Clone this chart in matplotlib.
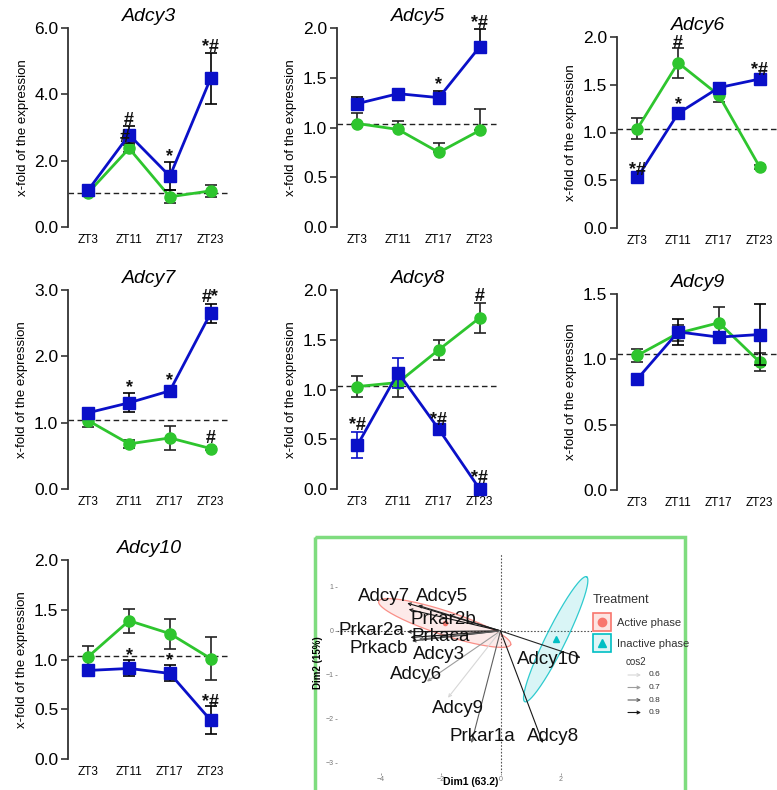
import numpy as np
import matplotlib
matplotlib.use("Agg")
import matplotlib.pyplot as plt
from matplotlib.patches import Rectangle, Polygon

plt.rcParams["font.family"] = ["Liberation Sans", "DejaVu Sans"]

W, H = 777, 790

# ---- line chart data (x-fold of expression) ----
zt = ["ZT3", "ZT11", "ZT17", "ZT23"]

adcy3_blue = [1.12, 2.78, 1.53, 4.48]
adcy3_blue_err = [0.05, 0.26, 0.42, 0.77]
adcy3_green = [1.04, 2.37, 0.91, 1.09]
adcy3_green_err = [0.04, 0.10, 0.20, 0.18]
adcy3_marks = [(1, 3.22, "#"), (0.88, 2.70, "#"), (2, 2.12, "*"), (3, 5.42, "*#")]

adcy5_blue = [1.24, 1.34, 1.30, 1.81]
adcy5_blue_err = [0.07, 0.02, 0.07, 0.18]
adcy5_green = [1.04, 0.98, 0.75, 0.97]
adcy5_green_err = [0.11, 0.09, 0.09, 0.22]
adcy5_marks = [(2, 1.43, "*"), (3, 2.05, "*#")]

adcy6_blue = [0.53, 1.20, 1.47, 1.56]
adcy6_blue_err = [0.02, 0.02, 0.05, 0.02]
adcy6_green = [1.04, 1.73, 1.39, 0.64]
adcy6_green_err = [0.11, 0.16, 0.07, 0.02]
adcy6_marks = [(0, 0.60, "*#"), (1, 1.93, "#"), (1, 1.29, "*"), (3, 1.65, "*#")]

adcy7_blue = [1.15, 1.30, 1.48, 2.65]
adcy7_blue_err = [0.03, 0.14, 0.03, 0.14]
adcy7_green = [1.03, 0.68, 0.77, 0.61]
adcy7_green_err = [0.10, 0.06, 0.18, 0.02]
adcy7_marks = [(1, 1.53, "*"), (2, 1.64, "*"), (3, 2.89, "#*"), (3, 0.76, "#")]

adcy8_blue = [0.44, 1.17, 0.60, 0.00]
adcy8_blue_err = [0.13, 0.15, 0.02, 0.00]
adcy8_green = [1.03, 1.07, 1.40, 1.72]
adcy8_green_err = [0.11, 0.15, 0.10, 0.15]
adcy8_marks = [(0, 0.64, "*#"), (2, 0.69, "*#"), (3, 0.11, "*#"), (3, 1.93, "#")]

adcy9_blue = [0.85, 1.21, 1.17, 1.19]
adcy9_blue_err = [0.01, 0.10, 0.04, 0.23]
adcy9_green = [1.03, 1.20, 1.28, 0.98]
adcy9_green_err = [0.05, 0.06, 0.12, 0.07]
adcy9_marks = []

adcy10_blue = [0.89, 0.91, 0.86, 0.39]
adcy10_blue_err = [0.01, 0.08, 0.08, 0.14]
adcy10_green = [1.03, 1.39, 1.26, 1.01]
adcy10_green_err = [0.11, 0.12, 0.15, 0.22]
adcy10_marks = [(1, 1.04, "*"), (2, 0.99, "*"), (3, 0.57, "*#")]

ref_level = 1.04

# ---- PCA biplot data ----
pca_vars = ["Adcy7", "Adcy5", "Prkar2b", "Prkar2a", "Prkaca", "Prkacb",
            "Adcy3", "Adcy6", "Adcy9", "Prkar1a", "Adcy8", "Adcy10"]
pca_dim1 = [-3.11, -2.75, -3.06, -3.11, -3.00, -2.95, -2.72, -2.45, -1.75, -0.97, 1.41, 2.67]
pca_dim2 = [0.63, 0.58, 0.49, -0.02, -0.15, -0.23, -0.19, -1.15, -1.52, -2.55, -2.55, -0.61]
pca_cos2 = [0.9, 0.88, 0.9, 0.88, 0.9, 0.85, 0.8, 0.7, 0.6, 0.8, 0.9, 0.88]
label_x = [-3.87, -1.94, -1.92, -4.29, -1.98, -4.06, -2.06, -2.83, -1.42, -0.61, 1.75, 1.58]
label_y = [0.78, 0.78, 0.27, 0.00, -0.12, -0.39, -0.54, -0.99, -1.77, -2.40, -2.40, -0.64]
group_names = ["Active phase", "Inactive phase"]
group_center_x = [-1.86, 1.84]
group_center_y = [0.18, -0.19]
# confidence ellipses: half major axis and half minor axis vectors (data units)
ell_major = [(2.20, -0.49), (1.03, 1.42)]
ell_minor = [(0.12, 0.26), (-0.30, 0.10)]
group_colors = ["#f8766d", "#00bfc4"]

BLUE = "#0a10c8"
GREEN = "#2ec52e"


def rect(left, top, right, bottom):
    return [left / W, 1 - bottom / H, (right - left) / W, (bottom - top) / H]


fig = plt.figure(figsize=(W / 100, H / 100), dpi=100)


def line_panel(pos, title, top, step, blue, blue_err, green, green_err, marks,
               upper_only=False, blue_err_color="black"):
    ax = fig.add_axes(rect(*pos))
    x = np.arange(4)
    if upper_only:
        gerr = [np.zeros(4), green_err]
        berr = [np.zeros(4), blue_err]
    else:
        gerr = green_err
        berr = blue_err
    ax.axhline(ref_level, color="#222222", ls=(0, (4, 2.5)), lw=1.0, zorder=1)
    ax.errorbar(x, green, yerr=gerr, fmt="none", ecolor="#222222", elinewidth=1.2,
                capsize=4, capthick=1.2, zorder=2, clip_on=False)
    ax.plot(x, green, color=GREEN, lw=2, marker="o", ms=8, zorder=3, clip_on=False)
    ax.errorbar(x, blue, yerr=berr, fmt="none", ecolor=blue_err_color, elinewidth=1.2,
                capsize=4, capthick=1.2, zorder=4, clip_on=False)
    ax.plot(x, blue, color=BLUE, lw=2, marker="s", ms=8, zorder=5, clip_on=False)
    for mx, my, mt in marks:
        ax.text(mx, my, mt, ha="center", va="center", fontsize=13, fontweight="bold",
                color="#111111", zorder=6)
    ax.set_xlim(-0.5, 3.5)
    ax.set_ylim(0, top)
    ticks = np.arange(0, top + step / 2, step)
    ax.set_yticks(ticks)
    ax.set_yticklabels(["%.1f" % t for t in ticks], fontsize=12.5)
    ax.set_xticks(x)
    ax.set_xticklabels(zt, fontsize=8.5)
    ax.tick_params(axis="x", length=0, pad=5)
    ax.tick_params(axis="y", length=5, width=1.2, color="#333333", pad=2)
    for s in ["top", "right", "bottom"]:
        ax.spines[s].set_visible(False)
    ax.spines["left"].set_linewidth(1.3)
    ax.spines["left"].set_color("#333333")
    ax.set_ylabel("x-fold of the expression", fontsize=9.5, labelpad=4)
    ax.set_title(title, fontsize=14, style="italic", pad=5)
    ax.patch.set_alpha(0)
    return ax


line_panel((68, 28, 231, 227), "Adcy3", 6.0, 2.0, adcy3_blue, adcy3_blue_err,
           adcy3_green, adcy3_green_err, adcy3_marks)
line_panel((337, 28, 500, 227), "Adcy5", 2.0, 0.5, adcy5_blue, adcy5_blue_err,
           adcy5_green, adcy5_green_err, adcy5_marks, upper_only=True)
line_panel((617, 37, 780, 228), "Adcy6", 2.0, 0.5, adcy6_blue, adcy6_blue_err,
           adcy6_green, adcy6_green_err, adcy6_marks)
line_panel((68, 290, 231, 489), "Adcy7", 3.0, 1.0, adcy7_blue, adcy7_blue_err,
           adcy7_green, adcy7_green_err, adcy7_marks)
line_panel((337, 290, 500, 489), "Adcy8", 2.0, 0.5, adcy8_blue, adcy8_blue_err,
           adcy8_green, adcy8_green_err, adcy8_marks, blue_err_color=BLUE)
line_panel((617, 294, 780, 490), "Adcy9", 1.5, 0.5, adcy9_blue, adcy9_blue_err,
           adcy9_green, adcy9_green_err, adcy9_marks)
line_panel((68, 560, 231, 759), "Adcy10", 2.0, 0.5, adcy10_blue, adcy10_blue_err,
           adcy10_green, adcy10_green_err, adcy10_marks)

# ---- PCA biplot ----
pax = fig.add_axes(rect(337, 553, 592, 773))
pax.set_xlim(-5.45, 3.05)
pax.set_ylim(-3.23, 1.77)
pax.axhline(0, color="#555555", ls=(0, (1.5, 1.5)), lw=0.8, zorder=1)
pax.axvline(0, color="#555555", ls=(0, (1.5, 1.5)), lw=0.8, zorder=1)

t = np.linspace(0, 2 * np.pi, 200)
for i in range(2):
    ex = group_center_x[i] + ell_major[i][0] * np.cos(t) + ell_minor[i][0] * np.sin(t)
    ey = group_center_y[i] + ell_major[i][1] * np.cos(t) + ell_minor[i][1] * np.sin(t)
    pax.add_patch(Polygon(np.column_stack([ex, ey]), closed=True,
                          facecolor=group_colors[i], alpha=0.15, edgecolor="none", zorder=2))
    pax.plot(ex, ey, color=group_colors[i], lw=0.9, alpha=0.8, zorder=2)
pax.plot(group_center_x[0], group_center_y[0], "o", color=group_colors[0], ms=3, zorder=3)
pax.plot(group_center_x[1], group_center_y[1], "^", color=group_colors[1], ms=4, zorder=3)

cos_cmap = plt.cm.Greys
for i, name in enumerate(pca_vars):
    c = cos_cmap(0.15 + (pca_cos2[i] - 0.55) * 2.2)
    pax.annotate("", xy=(pca_dim1[i], pca_dim2[i]), xytext=(0, 0),
                 arrowprops=dict(arrowstyle="->", color=c, lw=0.8, mutation_scale=5,
                                 shrinkA=0, shrinkB=0), zorder=4)
    pax.text(label_x[i], label_y[i], name, ha="center", va="center", fontsize=13.5,
             color="#111111", zorder=5)

pax.set_xticks([-4, -2, 0, 2])
pax.set_yticks([1, 0, -1, -2, -3])
pax.tick_params(labelsize=5, colors="#777777", length=1.5, width=0.5, pad=1)
for s in pax.spines.values():
    s.set_visible(False)
pax.patch.set_alpha(0)
fig.text(318 / W, 1 - 663 / H, "Dim2 (15%)", rotation=90, ha="center", va="center",
         fontsize=7, fontweight="bold")
fig.text(471 / W, 1 - 782 / H, "Dim1 (63.2)", ha="center", va="center",
         fontsize=7.5, fontweight="bold")

# ---- overlay: border and legend ----
ov = fig.add_axes([0, 0, 1, 1])
ov.set_xlim(0, W)
ov.set_ylim(H, 0)
ov.axis("off")
ov.add_patch(Rectangle((315, 537), 370, 258, fill=False, edgecolor="#7fdc7f", lw=2.5))
ov.text(593, 600, "Treatment", fontsize=9, color="#333333", va="center")
legend_markers = ["o", "^"]
legend_fills = ["#fde4e1", "#dff5f6"]
for i in range(2):
    y0 = 613 + i * 21
    ov.add_patch(Rectangle((593, y0), 18, 18, facecolor=legend_fills[i],
                           edgecolor=group_colors[i], lw=1.2))
    ov.plot(602, y0 + 9, legend_markers[i], color=group_colors[i], ms=6)
    ov.text(617, y0 + 10, group_names[i], fontsize=8, color="#333333", va="center")
ov.text(626, 662, "cos2", fontsize=7, color="#333333", va="center")
cos2_levels = [0.6, 0.7, 0.8, 0.9]
for i, lv in enumerate(cos2_levels):
    y = 675 + i * 12.5
    c = cos_cmap(0.15 + (lv - 0.55) * 2.2)
    ov.annotate("", xy=(641, y), xytext=(628, y),
                arrowprops=dict(arrowstyle="->", color=c, lw=0.8, mutation_scale=5,
                                shrinkA=0, shrinkB=0))
    ov.text(649, y, "%.1f" % lv, fontsize=6, color="#333333", va="center")

fig.savefig("out.png", dpi=100)
